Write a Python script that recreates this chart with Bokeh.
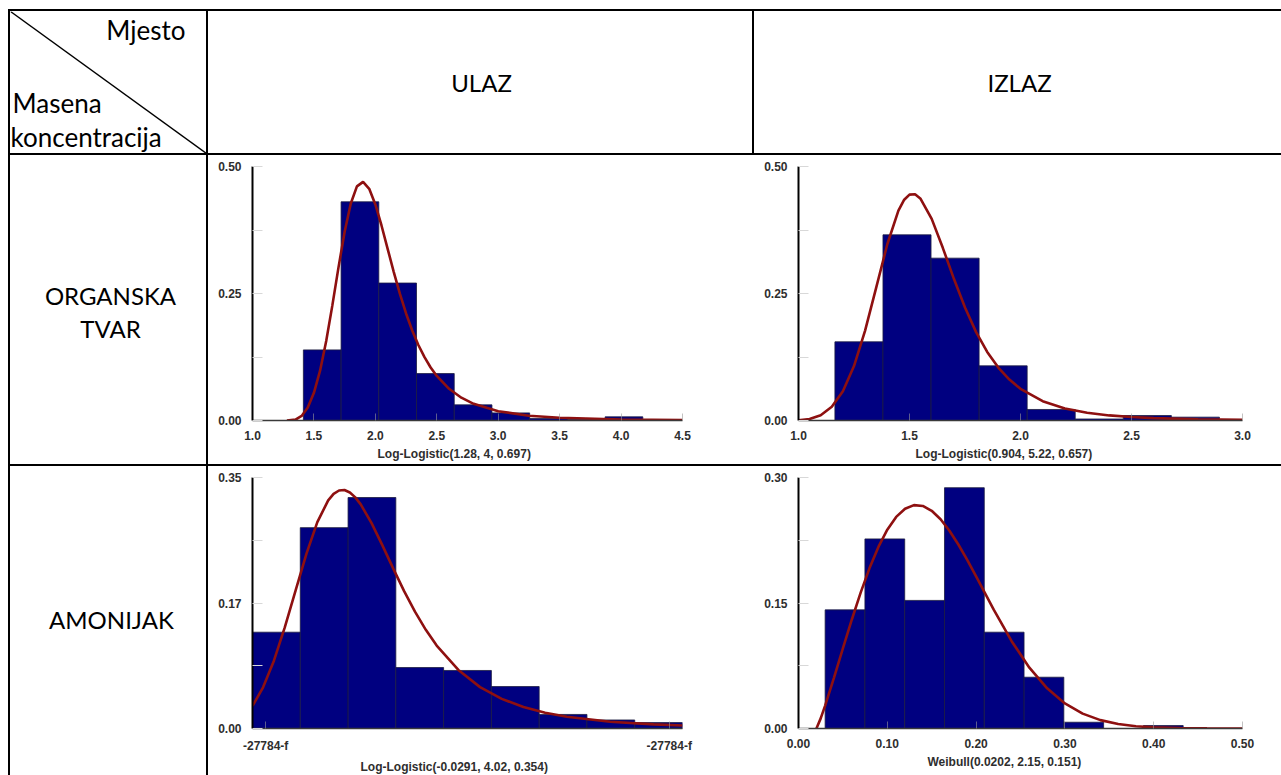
from bokeh.plotting import figure
from bokeh.layouts import row, column
from bokeh.models import Range1d, FixedTicker, Spacer, Title
from bokeh.embed import file_html
from bokeh.resources import INLINE
from bokeh.core.properties import value

# ---------------- data ----------------
column_labels = ["ULAZ", "IZLAZ"]
row_labels = [["ORGANSKA", "TVAR"], ["AMONIJAK"]]
corner_top = "Mjesto"
corner_bottom = ["Masena", "koncentracija"]

# chart 1 : ORGANSKA TVAR / ULAZ
c1_title = "Log-Logistic(1.28, 4, 0.697)"
c1_edges = [1.414, 1.721, 2.028, 2.335, 2.642, 2.949, 3.256, 3.563, 3.870, 4.177]
c1_heights = [0.139, 0.4305, 0.2706, 0.0924, 0.0308, 0.015, 0.004, 0.002, 0.0072]
c1_curve_x = [1.28, 1.35, 1.40, 1.45, 1.50, 1.55, 1.60, 1.65, 1.70, 1.75, 1.80, 1.85, 1.90,
              1.95, 2.00, 2.05, 2.10, 2.15, 2.20, 2.25, 2.30, 2.35, 2.40, 2.45, 2.50, 2.60,
              2.70, 2.80, 3.00, 3.25, 3.50, 4.00, 4.50]
c1_curve_y = [0.0, 0.0018, 0.0090, 0.0254, 0.0544, 0.0981, 0.1566, 0.2266, 0.3014, 0.3716,
              0.4272, 0.4608, 0.4697, 0.4561, 0.4253, 0.3839, 0.3380, 0.2921, 0.2492, 0.2107,
              0.1772, 0.1486, 0.1246, 0.1044, 0.0877, 0.0624, 0.0449, 0.0328, 0.0183, 0.0095,
              0.0053, 0.0019, 0.0008]
c1_xticks = [1.0, 1.5, 2.0, 2.5, 3.0, 3.5, 4.0, 4.5]
c1_xtick_labels = ["1.0", "1.5", "2.0", "2.5", "3.0", "3.5", "4.0", "4.5"]
c1_yticks = [0.0, 0.25, 0.5]
c1_ytick_labels = ["0.00", "0.25", "0.50"]
c1_yminor = [0.125, 0.375]

# chart 2 : ORGANSKA TVAR / IZLAZ
c2_title = "Log-Logistic(0.904, 5.22, 0.657)"
c2_edges = [1.164, 1.3805, 1.597, 1.8135, 2.030, 2.2465, 2.463, 2.6795, 2.896]
c2_heights = [0.1549, 0.3655, 0.3196, 0.1076, 0.0217, 0.003, 0.0098, 0.0066]
c2_curve_x = [1.00, 1.05, 1.10, 1.15, 1.20, 1.25, 1.30, 1.35, 1.40, 1.45, 1.475, 1.50, 1.525,
              1.55, 1.60, 1.65, 1.70, 1.75, 1.80, 1.85, 1.90, 1.95, 2.00, 2.10, 2.20, 2.30,
              2.40, 2.50, 2.60, 2.80, 3.00]
c2_curve_y = [0.0005, 0.0030, 0.0104, 0.0269, 0.0577, 0.1072, 0.1770, 0.2616, 0.3469, 0.4133,
              0.4340, 0.4447, 0.4453, 0.4365, 0.3969, 0.3399, 0.2789, 0.2223, 0.1740, 0.1349,
              0.1042, 0.0805, 0.0624, 0.0380, 0.0238, 0.0152, 0.0100, 0.0068, 0.0047, 0.0023,
              0.0013]
c2_xticks = [1.0, 1.5, 2.0, 2.5, 3.0]
c2_xtick_labels = ["1.0", "1.5", "2.0", "2.5", "3.0"]
c2_yticks = [0.0, 0.25, 0.5]
c2_ytick_labels = ["0.00", "0.25", "0.50"]
c2_yminor = [0.125, 0.375]

# chart 3 : AMONIJAK / ULAZ
c3_title = "Log-Logistic(-0.0291, 4.02, 0.354)"
c3_edges = [0.0756, 0.1857, 0.2958, 0.4059, 0.5160, 0.6261, 0.7362, 0.8463, 0.9564, 1.0665]
c3_heights = [0.1343, 0.2801, 0.3221, 0.0850, 0.0809, 0.0585, 0.0196, 0.0119, 0.0082]
c3_curve_x = [0.0756, 0.100, 0.125, 0.150, 0.175, 0.200, 0.225, 0.250, 0.2625, 0.275, 0.2875,
              0.300, 0.3125, 0.325, 0.350, 0.375, 0.400, 0.425, 0.450, 0.475, 0.500, 0.550,
              0.600, 0.650, 0.700, 0.750, 0.800, 0.900, 1.000, 1.0665]
c3_curve_y = [0.0315, 0.0574, 0.0946, 0.1409, 0.1926, 0.2438, 0.2877, 0.3181, 0.3272, 0.3319,
              0.3325, 0.3291, 0.3223, 0.3125, 0.2864, 0.2553, 0.2229, 0.1915, 0.1629, 0.1376,
              0.1157, 0.0816, 0.0577, 0.0413, 0.0299, 0.0220, 0.0164, 0.0094, 0.0057, 0.0042]
c3_xticks = [0.106, 1.036]
c3_xtick_labels = ["-27784-f", "-27784-f"]
c3_yticks = [0.0, 0.175, 0.35]
c3_ytick_labels = ["0.00", "0.17", "0.35"]
c3_yminor = [0.0875, 0.2625]

# chart 4 : AMONIJAK / IZLAZ
c4_title = "Weibull(0.0202, 2.15, 0.151)"
c4_edges = [0.0300, 0.0748, 0.1196, 0.1644, 0.2092, 0.2540, 0.2988, 0.3436, 0.3884, 0.4332]
c4_heights = [0.1418, 0.2266, 0.1531, 0.2878, 0.1151, 0.0613, 0.0075, 0.0, 0.0035]
c4_curve_x = [0.0202, 0.025, 0.03, 0.04, 0.05, 0.06, 0.07, 0.08, 0.09, 0.10, 0.11, 0.12, 0.13,
              0.14, 0.15, 0.16, 0.17, 0.18, 0.19, 0.20, 0.22, 0.24, 0.26, 0.28, 0.30, 0.32,
              0.34, 0.36, 0.38, 0.40, 0.43, 0.46, 0.50]
c4_curve_y = [0.0, 0.0121, 0.0274, 0.0609, 0.0957, 0.1300, 0.1624, 0.1917, 0.2170, 0.2376,
              0.2529, 0.2627, 0.2670, 0.2660, 0.2602, 0.2501, 0.2364, 0.2199, 0.2015, 0.1818,
              0.1417, 0.1044, 0.0727, 0.0480, 0.0300, 0.0178, 0.0100, 0.0053, 0.0027, 0.0013,
              0.0004, 0.0001, 0.0]
c4_xticks = [0.0, 0.1, 0.2, 0.3, 0.4, 0.5]
c4_xtick_labels = ["0.00", "0.10", "0.20", "0.30", "0.40", "0.50"]
c4_yticks = [0.0, 0.15, 0.30]
c4_ytick_labels = ["0.00", "0.15", "0.30"]
c4_yminor = [0.075, 0.225]

# ---------------- styling ----------------
CELL_FONT = "Lato"
AX_FONT = "Liberation Sans"
AX_COLOR = "#2e2e2e"
BAR_COLOR = "#000080"
BAR_LINE = "#1c1c40"
CURVE_COLOR = "#8e1010"

# page geometry (pixels)
PAD_L, PAD_T = 8, 9
LW = 2
W_LAB, W_C1, W_C2 = 196, 537, 536
W_H1, W_H2 = 544, 527
H_HEAD, H_R2, H_R3 = 142, 309, 309
X_LAB = PAD_L + LW                   # 10
X_C1 = X_LAB + W_LAB + LW            # 208
X_H2 = X_C1 + W_H1 + LW              # 754
Y_HEAD = PAD_T + LW                  # 11
Y_R2 = Y_HEAD + H_HEAD + LW          # 155
Y_R3 = Y_R2 + H_R2 + LW              # 466
R2_TOP, R2_BOT = 11, 44
R3_TOP, R3_BOT = 11, 43


def blank(w, h):
    return Spacer(width=w, height=h, styles={"background-color": "white"})


def black(w, h):
    return Spacer(width=w, height=h, styles={"background-color": "black"})


def cell_fig(w, h, x0, y0, top=0, bottom=0):
    # ranges in page pixels (y flipped) so texts are placed in page coordinates
    p = figure(width=w, height=h, x_range=Range1d(x0, x0 + w),
               y_range=Range1d(y0 + h - bottom, y0 + top),
               output_backend="svg", toolbar_location=None,
               min_border_left=0, min_border_right=0,
               min_border_top=top, min_border_bottom=bottom,
               x_axis_location=None, y_axis_location=None, outline_line_color=None,
               background_fill_color="white", border_fill_color="white")
    p.grid.visible = False
    return p


def cell_text(p, x, y, txt, align, size):
    p.text(x=[x], y=[y], text=[txt], text_align=align, text_baseline="alphabetic",
           text_font=value(CELL_FONT), text_font_size=size, text_color="black")


def chart(w, h, borders, xr, yr, edges, heights, cx, cy, title, title_offset,
          xt, xtl, yt, ytl, ymin):
    left, right, top, bottom = borders
    p = figure(width=w, height=h, x_range=Range1d(*xr), y_range=Range1d(*yr),
               output_backend="svg", toolbar_location=None,
               min_border_left=left, min_border_right=right,
               min_border_top=top, min_border_bottom=bottom,
               background_fill_color="white", border_fill_color="white",
               outline_line_color=None)
    p.grid.visible = False
    p.quad(left=edges[:-1], right=edges[1:], bottom=0, top=heights,
           fill_color=BAR_COLOR, line_color=BAR_LINE, line_width=0.8)
    p.line(cx, cy, line_color=CURVE_COLOR, line_width=2.6)

    xa = p.xaxis[0]
    xa.ticker = FixedTicker(ticks=xt, minor_ticks=[])
    xa.major_label_overrides = dict(zip(xt, xtl))
    xa.axis_line_color = "#3a3a3a"
    xa.axis_line_width = 1.5
    xa.major_tick_in = 7
    xa.major_tick_out = 0
    xa.major_tick_line_color = "#9a9a9a"
    xa.major_tick_line_alpha = 0.6
    xa.minor_tick_line_color = None
    xa.major_label_standoff = 10

    p.add_layout(Title(text=title, align="left", offset=title_offset, standoff=4,
                       text_font=AX_FONT, text_font_style="bold",
                       text_font_size="12px", text_color=AX_COLOR), "below")

    ya = p.yaxis[0]
    ya.ticker = FixedTicker(ticks=yt, minor_ticks=ymin)
    ya.major_label_overrides = dict(zip(yt, ytl))
    ya.axis_line_color = "#000000"
    ya.axis_line_width = 2
    ya.major_tick_in = 10
    ya.major_tick_out = 0
    ya.minor_tick_in = 10
    ya.minor_tick_out = 0
    ya.major_tick_line_color = "#d8d8d8"
    ya.minor_tick_line_color = "#d8d8d8"
    ya.major_label_standoff = 11

    for ax in (xa, ya):
        ax.major_label_text_font = AX_FONT
        ax.major_label_text_font_style = "bold"
        ax.major_label_text_font_size = "12px"
        ax.major_label_text_color = AX_COLOR
    return p


# header row
corner = cell_fig(W_LAB, H_HEAD, X_LAB, Y_HEAD)
corner.segment(x0=[X_LAB], y0=[Y_HEAD], x1=[X_LAB + W_LAB], y1=[Y_HEAD + H_HEAD],
               line_color="black", line_width=1.4)
cell_text(corner, 185, 29, corner_top, "right", "26px")
cell_text(corner, 12, 102, corner_bottom[0], "left", "26px")
cell_text(corner, 10, 136, corner_bottom[1], "left", "26px")

head1 = cell_fig(W_H1, H_HEAD, X_C1, Y_HEAD)
cell_text(head1, 481, 82, column_labels[0], "center", "24px")
head2 = cell_fig(W_H2, H_HEAD, X_H2, Y_HEAD)
cell_text(head2, 1019, 82, column_labels[1], "center", "24px")

# row labels
lab1 = cell_fig(W_LAB, H_R2, X_LAB, Y_R2, R2_TOP, R2_BOT)
cell_text(lab1, 110, 295, row_labels[0][0], "center", "24px")
cell_text(lab1, 110, 328, row_labels[0][1], "center", "24px")
lab2 = cell_fig(W_LAB, H_R3, X_LAB, Y_R3, R3_TOP, R3_BOT)
cell_text(lab2, 111, 621, row_labels[1][0], "center", "24px")

# charts
ch1 = chart(W_C1, H_R2, (44, 63, R2_TOP, R2_BOT), (1.0, 4.5), (0, 0.5), c1_edges,
            c1_heights, c1_curve_x, c1_curve_y, c1_title, 125, c1_xticks,
            c1_xtick_labels, c1_yticks, c1_ytick_labels, c1_yminor)
ch2 = chart(W_C2, H_R2, (53, 39, R2_TOP, R2_BOT), (1.0, 3.0), (0, 0.5), c2_edges,
            c2_heights, c2_curve_x, c2_curve_y, c2_title, 117, c2_xticks,
            c2_xtick_labels, c2_yticks, c2_ytick_labels, c2_yminor)
ch3 = chart(W_C1, H_R3, (44, 63, R3_TOP, R3_BOT), (c3_edges[0], c3_edges[-1]), (0, 0.35),
            c3_edges, c3_heights, c3_curve_x, c3_curve_y, c3_title, 108, c3_xticks,
            c3_xtick_labels, c3_yticks, c3_ytick_labels, c3_yminor)
ch4 = chart(W_C2, H_R3, (53, 39, R3_TOP, R3_BOT), (0.0, 0.5), (0, 0.30), c4_edges,
            c4_heights, c4_curve_x, c4_curve_y, c4_title, 129, c4_xticks,
            c4_xtick_labels, c4_yticks, c4_ytick_labels, c4_yminor)

FULL_W = PAD_L + LW + W_LAB + LW + W_C1 + W_C2   # 1281

layout = column(
    blank(FULL_W, PAD_T),
    row(blank(PAD_L, LW), black(FULL_W - PAD_L, LW)),
    row(blank(PAD_L, H_HEAD), black(LW, H_HEAD), corner, black(LW, H_HEAD), head1,
        black(LW, H_HEAD), head2),
    row(blank(PAD_L, LW), black(FULL_W - PAD_L, LW)),
    row(blank(PAD_L, H_R2), black(LW, H_R2), lab1, black(LW, H_R2), ch1, ch2),
    row(blank(PAD_L, LW), black(FULL_W - PAD_L, LW)),
    row(blank(PAD_L, H_R3), black(LW, H_R3), lab2, black(LW, H_R3), ch3, ch4),
)

open("out.html", "w").write(file_html(layout, INLINE))
